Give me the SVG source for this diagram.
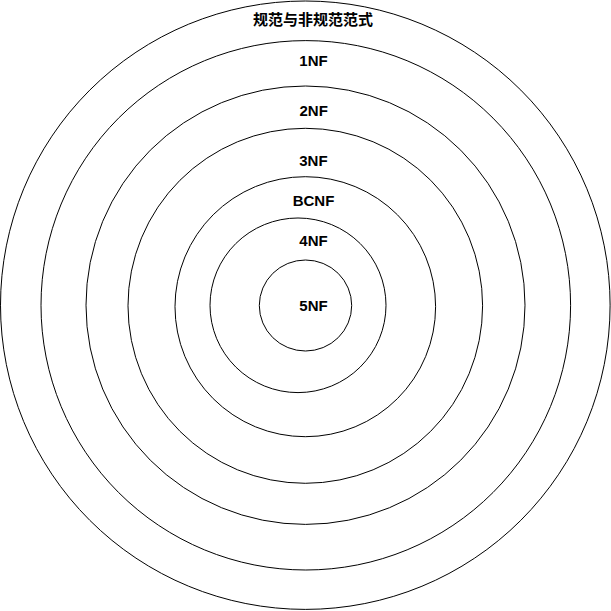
<svg xmlns="http://www.w3.org/2000/svg" width="611" height="611" viewBox="0 0 611 611">
<style>
.ring{fill:#ffffff;stroke:#000000;stroke-width:1}
.lbl{font-family:"Liberation Sans","Noto Sans CJK SC",Arial,sans-serif;font-weight:bold;font-size:15px;fill:#000000;text-anchor:middle}
</style>
<rect width="611" height="611" fill="#ffffff"/>
<g id="n-norm">
<ellipse class="ring" cx="305.3" cy="305.2" rx="304.8" ry="304.2"/>
<text class="lbl" x="313" y="25">规范与非规范范式</text>
</g>
<g id="n-1nf">
<ellipse class="ring" cx="305.8" cy="305.3" rx="264.8" ry="264.7"/>
<text class="lbl" x="313.5" y="65.5">1NF</text>
</g>
<g id="n-2nf">
<ellipse class="ring" cx="305.5" cy="305.2" rx="219.5" ry="219.2"/>
<text class="lbl" x="313.7" y="115.5">2NF</text>
</g>
<g id="n-3nf">
<ellipse class="ring" cx="305.3" cy="305.8" rx="177.3" ry="177.5"/>
<text class="lbl" x="313.4" y="165.5">3NF</text>
</g>
<g id="n-bcnf">
<ellipse class="ring" cx="305.3" cy="306.7" rx="130.3" ry="130"/>
<text class="lbl" x="313.5" y="205.5">BCNF</text>
</g>
<g id="n-4nf">
<ellipse class="ring" cx="298" cy="305.3" rx="88" ry="87.3"/>
<text class="lbl" x="313.5" y="245.5">4NF</text>
</g>
<g id="n-5nf">
<ellipse class="ring" cx="305.5" cy="305.5" rx="46.2" ry="45.5"/>
<text class="lbl" x="313.5" y="310.5">5NF</text>
</g>
<g id="connectors"/>
</svg>
